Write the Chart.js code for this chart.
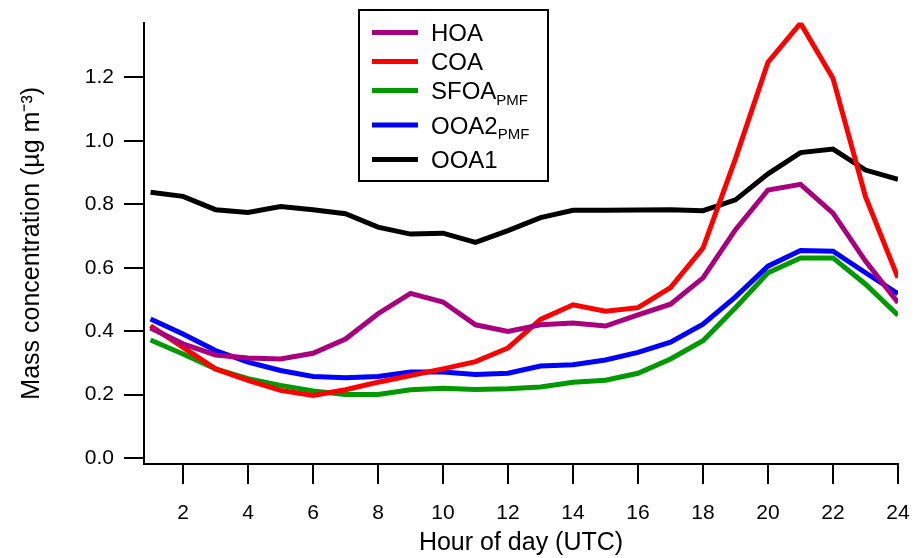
<!DOCTYPE html>
<html>
<head>
<meta charset="utf-8">
<script src="https://cdn.jsdelivr.net/npm/chart.js@4"></script>
<style>
  html, body { margin: 0; padding: 0; background: #fff; }
</style>
</head>
<body>
<canvas id="myChart" width="916" height="558"></canvas>
<script>
const hours = [1, 2, 3, 4, 5, 6, 7, 8, 9, 10, 11, 12, 13, 14, 15, 16, 17, 18, 19, 20, 21, 22, 23, 24];
const hoa  = [0.410, 0.360, 0.325, 0.315, 0.312, 0.330, 0.375, 0.455, 0.519, 0.492, 0.420, 0.399, 0.420, 0.426, 0.416, 0.451, 0.485, 0.568, 0.720, 0.845, 0.863, 0.772, 0.621, 0.490];
const coa  = [0.417, 0.349, 0.281, 0.245, 0.213, 0.197, 0.215, 0.239, 0.260, 0.281, 0.304, 0.347, 0.437, 0.483, 0.463, 0.474, 0.537, 0.662, 0.944, 1.248, 1.371, 1.197, 0.824, 0.568];
const sfoa = [0.372, 0.328, 0.281, 0.250, 0.229, 0.211, 0.200, 0.200, 0.215, 0.220, 0.216, 0.218, 0.224, 0.239, 0.245, 0.267, 0.312, 0.370, 0.474, 0.584, 0.631, 0.631, 0.548, 0.450];
const ooa2 = [0.438, 0.391, 0.339, 0.302, 0.276, 0.257, 0.253, 0.257, 0.271, 0.271, 0.263, 0.267, 0.290, 0.294, 0.309, 0.333, 0.365, 0.422, 0.508, 0.605, 0.654, 0.652, 0.584, 0.518];
const ooa1 = [0.838, 0.825, 0.783, 0.774, 0.793, 0.783, 0.770, 0.728, 0.706, 0.709, 0.680, 0.717, 0.758, 0.781, 0.781, 0.782, 0.783, 0.780, 0.814, 0.896, 0.963, 0.974, 0.908, 0.879];

const seriesNames  = ['HOA', 'COA', 'SFOA', 'OOA2', 'OOA1'];
const seriesSubs   = ['', '', 'PMF', 'PMF', ''];
const seriesValues = [hoa, coa, sfoa, ooa2, ooa1];
const seriesColors = ['#a8007c', '#ff0000', '#009900', '#0000ff', '#000000'];

const xTicks = [2, 4, 6, 8, 10, 12, 14, 16, 18, 20, 22, 24];
const yTicks = [0.0, 0.2, 0.4, 0.6, 0.8, 1.0, 1.2];

const FONT = "'Liberation Sans', Arial, sans-serif";

// legend with subscripts, drawn by hand in the box at the top
const legendBox = {
    id: 'legendBox',
    afterDraw(chart) {
        const ctx = chart.ctx;
        ctx.save();
        ctx.strokeStyle = '#000';
        ctx.lineWidth = 2;
        ctx.strokeRect(359, 10, 189, 171);
        let y = 32.5;
        chart.data.datasets.forEach(ds => {
            ctx.strokeStyle = ds.borderColor;
            ctx.lineWidth = 5;
            ctx.beginPath();
            ctx.moveTo(372, y);
            ctx.lineTo(418, y);
            ctx.stroke();
            ctx.fillStyle = '#000';
            ctx.textBaseline = 'alphabetic';
            ctx.textAlign = 'left';
            ctx.font = '24px ' + FONT;
            ctx.fillText(ds.label, 431, y + 8.5);
            if (ds.sub) {
                const w = ctx.measureText(ds.label).width;
                ctx.font = '15px ' + FONT;
                ctx.fillText(ds.sub, 431 + w, y + 14.3);
            }
            y += ds.sub ? 34.5 : 29;
        });
        ctx.restore();
    }
};

const ctx = document.getElementById('myChart');
new Chart(ctx, {
    type: 'line',
    data: {
        datasets: seriesNames.map((name, i) => ({
            label: name,
            sub: seriesSubs[i],
            data: seriesValues[i].map((v, j) => ({ x: hours[j], y: v })),
            borderColor: seriesColors[i],
            backgroundColor: seriesColors[i],
            borderWidth: 5,
            pointRadius: 0,
            tension: 0,
            fill: false
        }))
    },
    options: {
        responsive: false,
        animation: false,
        devicePixelRatio: 1,
        layout: { padding: { left: 0, right: 0, top: 20, bottom: 0 } },
        plugins: {
            legend: { display: false },
            tooltip: { enabled: false }
        },
        scales: {
            x: {
                type: 'linear',
                min: 0.8,
                max: 24,
                afterBuildTicks: s => { s.ticks = xTicks.map(v => ({ value: v })); },
                afterFit: s => {
                    s.height = 94;
                    s.paddingLeft = 0;
                    s.paddingRight = 18;
                },
                border: { display: true, color: '#000', width: 2 },
                grid: { drawOnChartArea: false, drawTicks: true, tickLength: 20, color: '#000', lineWidth: 2 },
                ticks: { color: '#000', font: { family: FONT, size: 21 }, padding: 17, maxRotation: 0, autoSkip: false },
                title: {
                    display: true,
                    text: 'Hour of day (UTC)',
                    color: '#000',
                    font: { family: FONT, size: 25 },
                    padding: { top: 0, bottom: 0 }
                }
            },
            y: {
                min: -0.019,
                max: 1.373,
                afterBuildTicks: s => { s.ticks = yTicks.map(v => ({ value: v })); },
                afterFit: s => { s.width = 144; },
                border: { display: true, color: '#000', width: 2 },
                grid: { drawOnChartArea: false, drawTicks: true, tickLength: 20, color: '#000', lineWidth: 2 },
                ticks: {
                    color: '#000',
                    font: { family: FONT, size: 21 },
                    padding: 10,
                    callback: v => v.toFixed(1)
                },
                title: {
                    display: true,
                    text: 'Mass concentration (µg m⁻³)',
                    color: '#000',
                    font: { family: FONT, size: 25 },
                    padding: { top: 17, bottom: 0 }
                }
            }
        }
    },
    plugins: [legendBox]
});
</script>
</body>
</html>
